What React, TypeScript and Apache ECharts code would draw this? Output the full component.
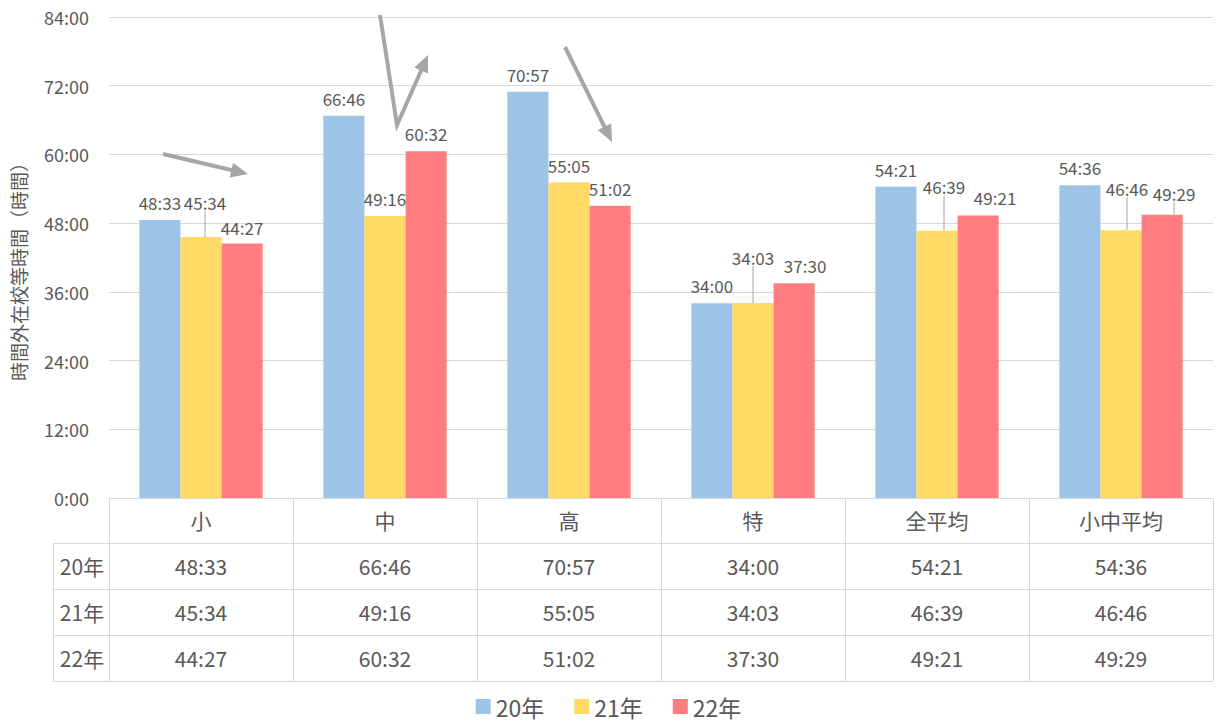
import { useEffect, useRef } from "react";
import * as echarts from "echarts";

// Overtime-at-school hours per school type, three survey years (hh:mm)
const categories = ["小", "中", "高", "特", "全平均", "小中平均"];
const seriesNames = ["20年", "21年", "22年"];
const values20 = ["48:33", "66:46", "70:57", "34:00", "54:21", "54:36"];
const values21 = ["45:34", "49:16", "55:05", "34:03", "46:39", "46:46"];
const values22 = ["44:27", "60:32", "51:02", "37:30", "49:21", "49:29"];
const yAxisTitle = "時間外在校等時間（時間）";

const colors = ["#9DC3E6", "#FFD966", "#FF7C80"];
const textColor = "#595959";
const lineColor = "#D9D9D9";
const arrowColor = "#A6A6A6";
const FONT = "'Noto Sans CJK JP', 'Noto Sans', sans-serif";

// Layout of plot area and data table
const GRID_LEFT = 109;
const GRID_RIGHT = 4;
const GRID_TOP = 17;
const AXIS_Y = 498;
const TABLE_LEFT = 53;
const ROW_OFFSETS = [45, 91, 137]; // table row top lines below the axis
const TABLE_BOTTOM_OFFSET = 183;

// Manual nudges for the data labels [dx, dy] per series / category
const labelShift: number[][][] = [
  [[0, 0], [0, 0], [0, 0], [0, 0], [0, 0], [0, 0]],
  [[4, -17], [0, 0], [0, 0], [0, -28], [7, -27], [6, -24]],
  [[0, 2], [0, 0], [0, 0], [11, 0], [17, 0], [12, -4]],
];
// Labels that keep a leader line back to their bar
const leaderLines: number[][] = [[], [0, 3, 4, 5], [5]];

// Trend arrows drawn over the plot
const arrows: number[][][] = [
  [[163, 154], [248, 174]],
  [[380, 15], [397, 125], [428, 55]],
  [[565, 47], [612, 142]],
];

const toMinutes = (s: string) => {
  const [h, m] = s.split(":").map(Number);
  return h * 60 + m;
};
const fmt = (v: number) => `${Math.floor(v / 60)}:${String(v % 60).padStart(2, "0")}`;

function arrowGraphics(pts: number[][]) {
  const headLen = 17;
  const headHalf = 7.5;
  const n = pts.length;
  const [tx, ty] = pts[n - 1];
  const [px, py] = pts[n - 2];
  const len = Math.hypot(tx - px, ty - py);
  const ux = (tx - px) / len;
  const uy = (ty - py) / len;
  const bx = tx - ux * headLen;
  const by = ty - uy * headLen;
  const shaft = pts.slice(0, n - 1).concat([[bx + ux * 2, by + uy * 2]]);
  return [
    {
      type: "polyline",
      shape: { points: shaft },
      style: { stroke: arrowColor, lineWidth: 4, fill: "none", lineJoin: "miter" },
      z: 100,
    },
    {
      type: "polygon",
      shape: {
        points: [
          [tx, ty],
          [bx - uy * headHalf, by + ux * headHalf],
          [bx + uy * headHalf, by - ux * headHalf],
        ],
      },
      style: { fill: arrowColor },
      z: 100,
    },
  ];
}

export default function App() {
  const ref = useRef<HTMLDivElement>(null);

  useEffect(() => {
    if (!ref.current) return;
    const chart = echarts.init(ref.current, undefined, { renderer: "svg" });
    const all = [values20, values21, values22];

    const series = all.map((vals, si) => ({
      name: seriesNames[si],
      type: "bar",
      barGap: "0%",
      barCategoryGap: "33%",
      itemStyle: { color: colors[si] },
      label: {
        show: true,
        position: "top",
        distance: 9,
        fontSize: 17,
        fontFamily: FONT,
        color: textColor,
        formatter: (p: any) => vals[p.dataIndex],
      },
      labelLine: { show: false, lineStyle: { color: arrowColor, width: 1 } },
      labelLayout: (p: any) => {
        const s = labelShift[si][p.dataIndex];
        return { dx: s[0], dy: s[1] };
      },
      data: vals.map((v, i) => ({
        value: toMinutes(v),
        labelLine: { show: leaderLines[si].includes(i), lineStyle: { color: arrowColor, width: 1 } },
      })),
    }));

    // Table rows under the axis, one category axis per year
    const rowAxes = all.map((vals, ri) => ({
      type: "category",
      gridIndex: 0,
      position: "bottom",
      offset: ROW_OFFSETS[ri],
      data: vals,
      axisLine: { show: true, lineStyle: { color: lineColor, width: 1 } },
      axisTick: { show: false },
      axisLabel: {
        interval: 0,
        margin: 23,
        verticalAlign: "middle",
        fontSize: 21,
        fontFamily: FONT,
        color: textColor,
      },
      splitLine: { show: false },
    }));

    const rowLineYs = ROW_OFFSETS.concat([TABLE_BOTTOM_OFFSET]).map((o) => AXIS_Y + o);
    const tableGraphics: any[] = [
      ...rowLineYs.map((y) => ({
        type: "line",
        shape: { x1: TABLE_LEFT, y1: y + 0.5, x2: GRID_LEFT, y2: y + 0.5 },
        style: { stroke: lineColor, lineWidth: 1 },
      })),
      {
        type: "line",
        shape: { x1: TABLE_LEFT + 0.5, y1: rowLineYs[0], x2: TABLE_LEFT + 0.5, y2: rowLineYs[3] + 1 },
        style: { stroke: lineColor, lineWidth: 1 },
      },
      ...seriesNames.map((name, i) => ({
        type: "text",
        x: (TABLE_LEFT + GRID_LEFT) / 2 + 1,
        y: (rowLineYs[i] + rowLineYs[i + 1]) / 2,
        style: {
          text: name,
          fontSize: 21,
          fontFamily: FONT,
          fill: textColor,
          align: "center",
          verticalAlign: "middle",
        },
      })),
      // Vertical value-axis title
      {
        type: "text",
        x: 18,
        y: 267,
        rotation: Math.PI / 2,
        style: {
          text: yAxisTitle,
          fontSize: 19,
          fontFamily: FONT,
          fill: textColor,
          align: "center",
          verticalAlign: "middle",
        },
      },
    ];

    chart.setOption({
      animation: false,
      color: colors,
      textStyle: { fontFamily: FONT },
      grid: {
        left: GRID_LEFT,
        right: GRID_RIGHT,
        top: GRID_TOP,
        bottom: 726 - AXIS_Y,
        containLabel: false,
      },
      legend: {
        data: seriesNames,
        left: "center",
        top: 690,
        icon: "rect",
        itemWidth: 15,
        itemHeight: 15,
        itemGap: 30,
        textStyle: { fontSize: 23, color: textColor, fontFamily: FONT },
      },
      xAxis: [
        {
          type: "category",
          data: categories,
          position: "bottom",
          axisLine: { show: true, lineStyle: { color: lineColor, width: 1 } },
          axisTick: { show: true, length: TABLE_BOTTOM_OFFSET, lineStyle: { color: lineColor, width: 1 } },
          axisLabel: {
            interval: 0,
            margin: 22,
            verticalAlign: "middle",
            fontSize: 21,
            fontFamily: FONT,
            color: textColor,
          },
        },
        ...rowAxes,
        {
          type: "category",
          gridIndex: 0,
          position: "bottom",
          offset: TABLE_BOTTOM_OFFSET,
          data: categories,
          axisLine: { show: true, lineStyle: { color: lineColor, width: 1 } },
          axisTick: { show: false },
          axisLabel: { show: false },
        },
      ],
      yAxis: {
        type: "value",
        min: 0,
        max: 5040,
        interval: 720,
        axisLine: { show: false },
        axisTick: { show: false },
        axisLabel: {
          formatter: (v: number) => fmt(v),
          fontSize: 18,
          margin: 20,
          color: textColor,
          fontFamily: FONT,
        },
        splitLine: { lineStyle: { color: lineColor, width: 1 } },
      },
      series,
      graphic: [...tableGraphics, ...arrows.flatMap((a) => arrowGraphics(a))],
    });

    return () => chart.dispose();
  }, []);

  return <div ref={ref} style={{ width: 1217, height: 726, position: "absolute", left: 0, top: 0 }} />;
}
